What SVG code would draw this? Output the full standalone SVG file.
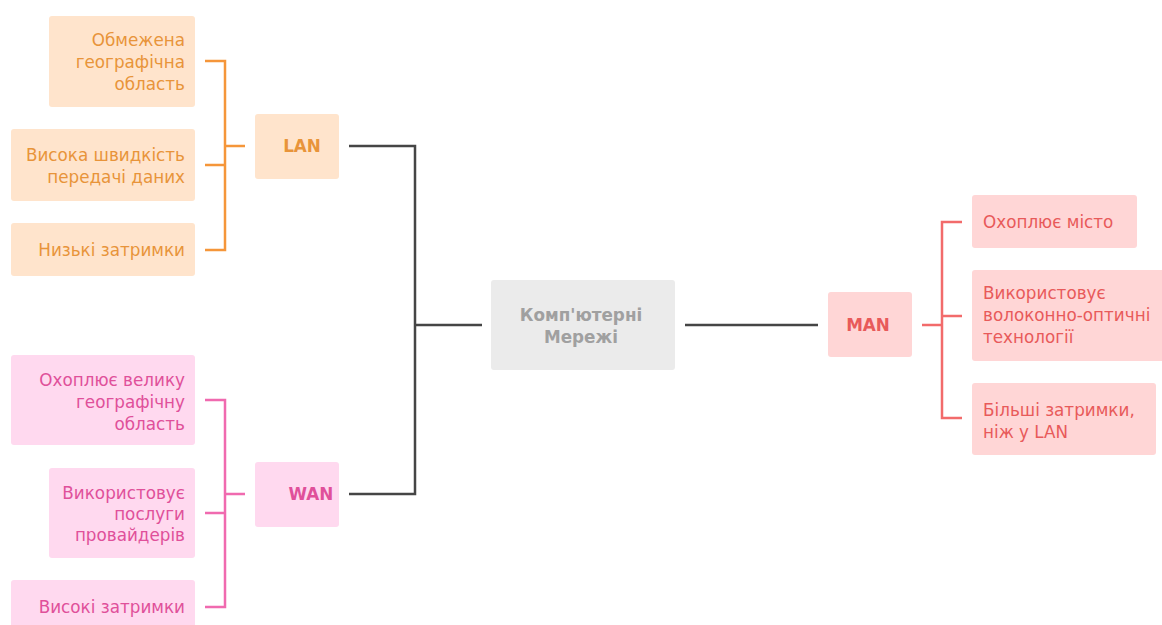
<svg xmlns="http://www.w3.org/2000/svg" width="1162" height="625" viewBox="0 0 1162 625">
  <style>
    text { font-family: "DejaVu Sans", "Noto Sans", sans-serif; font-size: 16.8px; }
    .lan rect { fill: #ffe4cc; }
    .lan text { fill: #e8943a; }
    .wan rect { fill: #ffd9ef; }
    .wan text { fill: #e0509a; }
    .man rect { fill: #ffd6d6; }
    .man text { fill: #e85a5a; }
    .leftleaf text { text-anchor: end; }
    .hub text { font-weight: bold; text-anchor: middle; }
    .root rect { fill: #ebebeb; }
    .root text { fill: #a0a0a0; font-weight: bold; text-anchor: middle; }
    .conn { fill: none; stroke-width: 2.5; }
    .dark { stroke: #454545; }
    .o { stroke: #f5963a; }
    .p { stroke: #f06aaf; }
    .r { stroke: #f26b6b; }
  </style>
  <rect width="1162" height="625" fill="#ffffff"/>

  <g id="connectors">
    <path class="conn dark" d="M349 146 H415 V494 H349 M415 325 H482 M685 325 H818"/>
    <path class="conn o" d="M245 146 H225 M205 61 H225 V250 H205 M205 165 H225"/>
    <path class="conn p" d="M245 494 H225 M205 400 H225 V607 H205 M205 513 H225"/>
    <path class="conn r" d="M922 325 H942 M962 222 H942 V418 H962 M942 316 H962"/>
  </g>

  <g id="root" class="root">
    <rect x="491" y="280" width="184" height="90" rx="3"/>
    <text x="581" y="321">Комп'ютерні</text>
    <text x="581" y="343">Мережі</text>
  </g>

  <g id="lan" class="lan hub">
    <rect x="255" y="114" width="84" height="65" rx="3"/>
    <text x="302" y="152">LAN</text>
  </g>
  <g id="lan-1" class="lan leftleaf">
    <rect x="49" y="16" width="146" height="91" rx="3"/>
    <text x="185" y="46">Обмежена</text>
    <text x="185" y="68">географічна</text>
    <text x="185" y="90">область</text>
  </g>
  <g id="lan-2" class="lan leftleaf">
    <rect x="11" y="129" width="184" height="72" rx="3"/>
    <text x="185" y="161">Висока швидкість</text>
    <text x="185" y="183">передачі даних</text>
  </g>
  <g id="lan-3" class="lan leftleaf">
    <rect x="11" y="223" width="184" height="53" rx="3"/>
    <text x="185" y="256">Низькі затримки</text>
  </g>

  <g id="wan" class="wan hub">
    <rect x="255" y="462" width="84" height="65" rx="3"/>
    <text x="311" y="500">WAN</text>
  </g>
  <g id="wan-1" class="wan leftleaf">
    <rect x="11" y="355" width="184" height="90" rx="3"/>
    <text x="185" y="386">Охоплює велику</text>
    <text x="185" y="408">географічну</text>
    <text x="185" y="430">область</text>
  </g>
  <g id="wan-2" class="wan leftleaf">
    <rect x="49" y="468" width="146" height="90" rx="3"/>
    <text x="185" y="499">Використовує</text>
    <text x="185" y="520">послуги</text>
    <text x="185" y="541">провайдерів</text>
  </g>
  <g id="wan-3" class="wan leftleaf">
    <rect x="11" y="580" width="184" height="60" rx="3"/>
    <text x="185" y="613">Високі затримки</text>
  </g>

  <g id="man" class="man hub">
    <rect x="828" y="292" width="84" height="65" rx="3"/>
    <text x="868" y="331">MAN</text>
  </g>
  <g id="man-1" class="man">
    <rect x="972" y="195" width="165" height="53" rx="3"/>
    <text x="983" y="228">Охоплює місто</text>
  </g>
  <g id="man-2" class="man">
    <rect x="972" y="270" width="195" height="91" rx="3"/>
    <text x="983" y="299">Використовує</text>
    <text x="983" y="321">волоконно-оптичні</text>
    <text x="983" y="343">технології</text>
  </g>
  <g id="man-3" class="man">
    <rect x="972" y="383" width="184" height="72" rx="3"/>
    <text x="983" y="416">Більші затримки,</text>
    <text x="983" y="438">ніж у LAN</text>
  </g>
</svg>
